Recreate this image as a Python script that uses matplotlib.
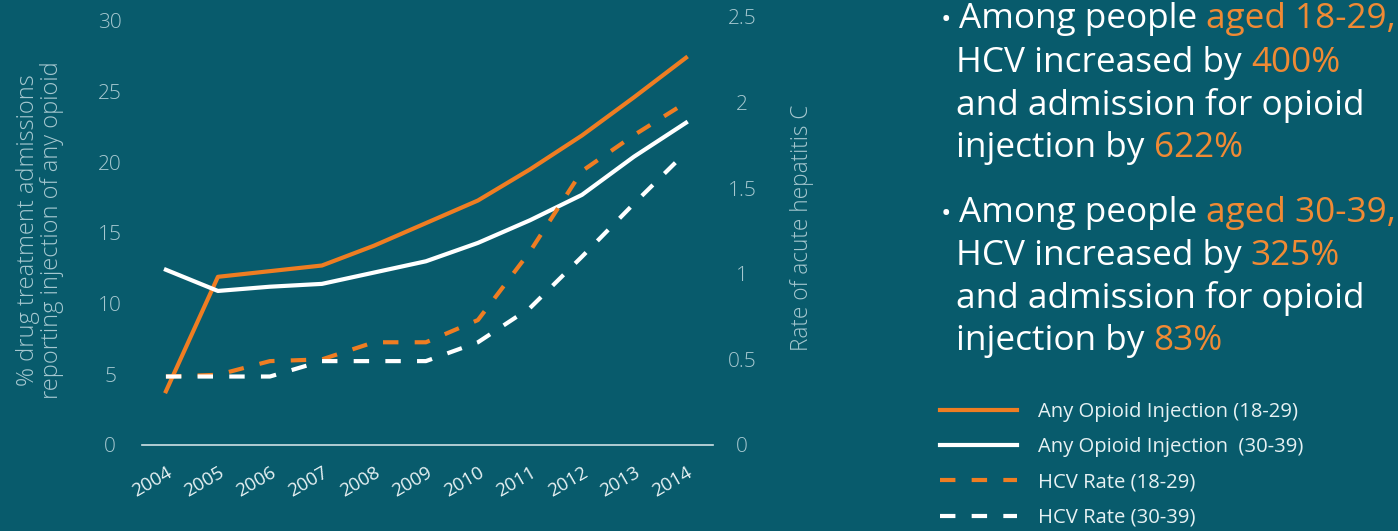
import matplotlib.pyplot as plt

# data
years = [2004, 2005, 2006, 2007, 2008, 2009, 2010, 2011, 2012, 2013, 2014]
opioid_18_29 = [3.8, 11.9, 12.3, 12.7, 14.1, 15.7, 17.3, 19.5, 21.9, 24.6, 27.4]
opioid_30_39 = [12.4, 10.9, 11.2, 11.4, 12.2, 13.0, 14.3, 15.9, 17.7, 20.4, 22.8]
hcv_18_29 = [0.4, 0.41, 0.49, 0.50, 0.60, 0.60, 0.73, 1.13, 1.60, 1.81, 2.0]
hcv_30_39 = [0.4, 0.4, 0.4, 0.49, 0.49, 0.49, 0.60, 0.80, 1.10, 1.41, 1.71]

left_ticks = [0, 5, 10, 15, 20, 25, 30]
right_ticks = [0, 0.5, 1, 1.5, 2, 2.5]
right_labels = ['0', '0.5', '1', '1.5', '2', '2.5']

labels = ['Any Opioid Injection (18-29)', 'Any Opioid Injection  (30-39)',
          'HCV Rate (18-29)', 'HCV Rate (30-39)']

bullets = [
    [[('Among people ', 'w'), ('aged 18-29,', 'o')],
     [('HCV increased by ', 'w'), ('400%', 'o')],
     [('and admission for opioid', 'w')],
     [('injection by ', 'w'), ('622%', 'o')]],
    [[('Among people ', 'w'), ('aged 30-39,', 'o')],
     [('HCV increased by ', 'w'), ('325%', 'o')],
     [('and admission for opioid', 'w')],
     [('injection by ', 'w'), ('83%', 'o')]],
]

bg = '#085b6c'
orange = '#ef7d22'
orange_txt = '#f08a34'
white = '#ffffff'
tick_col = '#a6c8d0'
W, H = 1398, 531

plt.rcParams['font.family'] = ['Open Sans', 'DejaVu Sans']

fig = plt.figure(figsize=(W / 100, H / 100), dpi=100, facecolor=bg)
ax = fig.add_axes([142 / W, 1 - 445 / H, (713 - 142) / W, (445 - 17) / H])
ax.set_facecolor(bg)
ax2 = ax.twinx()

lw = 3.0
dash = (3.7, 3.9)
l1, = ax.plot(years, opioid_18_29, color=orange, lw=lw)
l2, = ax.plot(years, opioid_30_39, color=white, lw=lw)
l3, = ax2.plot(years, hcv_18_29, color=orange, lw=lw, dashes=dash)
l4, = ax2.plot(years, hcv_30_39, color=white, lw=lw, dashes=dash)

ax.set_xlim(2003.54, 2014.52)
ax.set_ylim(0, 30 * 428 / 424)
ax2.set_ylim(0, 2.5)

for a in (ax, ax2):
    for s in a.spines.values():
        s.set_visible(False)
ax.spines['bottom'].set_visible(True)
ax.spines['bottom'].set_color('#cfe1e5')
ax.spines['bottom'].set_linewidth(1.2)

ax.set_xticks(years)
ax.set_xticklabels([str(y) for y in years], rotation=30, ha='right',
                   rotation_mode='anchor', fontsize=13.5, color='#e8f2f4')
ax.tick_params(axis='x', length=0, pad=13)

ax.set_yticks(left_ticks)
ax.set_yticklabels([str(t) for t in left_ticks], fontsize=15, color=tick_col,
                   fontweight='light')
ax.tick_params(axis='y', length=0, pad=23)
for t in ax.get_yticklabels():
    t.set_ha('center')

ax2.set_yticks(right_ticks)
ax2.set_yticklabels(right_labels, fontsize=15, color=tick_col, fontweight='light')
ax2.tick_params(axis='y', length=0, pad=21)
for t in ax2.get_yticklabels():
    t.set_ha('center')

fig.text(40 / W, 1 - 230 / H,
         '% drug treatment admissions\nreporting injection of any opioid',
         rotation=90, ha='center', va='center', multialignment='center',
         fontsize=17, color=tick_col, fontweight='light', linespacing=1.05)
fig.text(802 / W, 1 - 228 / H, 'Rate of acute hepatitis C', rotation=90,
         ha='center', va='center', fontsize=16.3, color=tick_col,
         fontweight='light')

# right-hand statements, coloured piece by piece
renderer = fig.canvas.get_renderer()
cols = {'w': white, 'o': orange_txt}
baselines = [[28, 72, 115, 157], [222, 265, 308, 350]]
for block, ys in zip(bullets, baselines):
    fig.text(941 / W, 1 - ys[0] / H, '\u2022', color=white, fontsize=20,
             va='baseline', ha='left')
    for i, (line, yb) in enumerate(zip(block, ys)):
        x = 959 if i == 0 else 956
        for txt, c in line:
            t = fig.text(x / W, 1 - yb / H, txt, color=cols[c], fontsize=25.3,
                         va='baseline', ha='left')
            x += t.get_window_extent(renderer).width

fig.legend([l1, l2, l3, l4], labels, loc='upper left',
           bbox_to_anchor=(940 / W, 1 - 402 / H), frameon=False,
           fontsize=14.6, labelcolor='#e6f1f3', handlelength=3.8,
           handletextpad=1.03, labelspacing=0.75, borderpad=0,
           borderaxespad=0)

fig.savefig('out.png', dpi=100, facecolor=bg)
